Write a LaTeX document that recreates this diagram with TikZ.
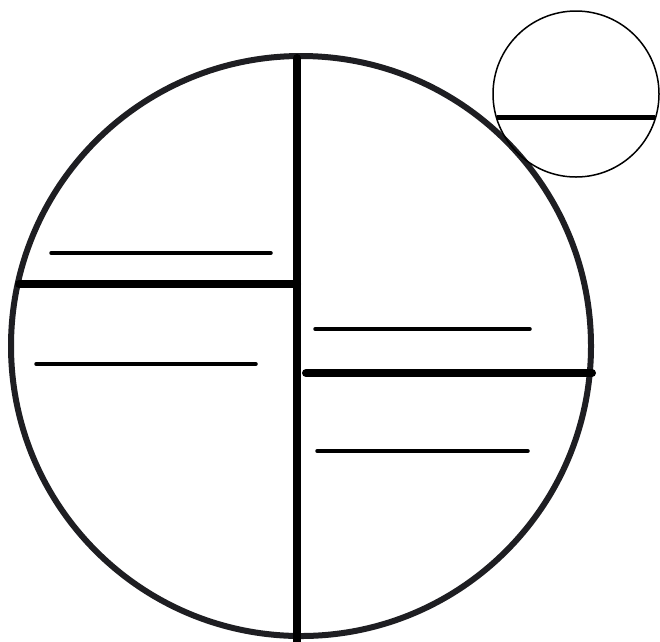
\documentclass[tikz,border=0pt]{standalone}
\definecolor{rim}{HTML}{1E1E22}
\tikzset{
  thickbar/.style={line width=8pt, line cap=round, black},
  thinbar/.style={line width=3.5pt, line cap=round, black},
}
\begin{document}
\begin{tikzpicture}[x=1pt,y=-1pt]
\useasboundingbox[fill=white] (0,0) rectangle (660,641);
% big circle
\draw[rim, line width=6pt] (301,346) circle[radius=290];
% vertical divider
\draw[line width=8pt, black, line cap=round] (297,58) -- (297,645);
% left side
\draw[thickbar] (19,284) -- (297,284);
\draw[thinbar] (51,253) -- (271,253);
\draw[thinbar] (36,364) -- (256,364);
% right side
\draw[thickbar] (306,373) -- (592,373);
\draw[thinbar] (315,329) -- (530,329);
\draw[thinbar] (317,451) -- (528,451);
% small circle
\draw[black, line width=1.5pt] (576,94) circle[radius=83];
\draw[black, line width=5pt] (497,117) -- (655,117);
\end{tikzpicture}
\end{document}
